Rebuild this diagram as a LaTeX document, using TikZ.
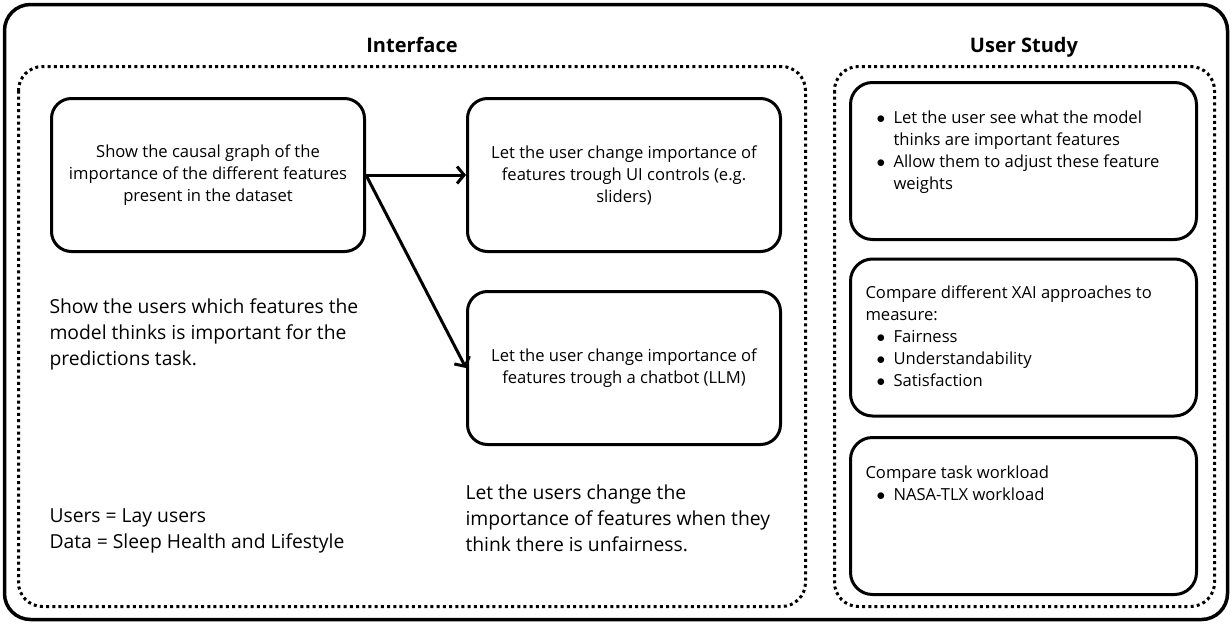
\documentclass[tikz,border=0pt]{standalone}
\usepackage{fontspec}
\setmainfont{Open Sans}
\usetikzlibrary{arrows.meta}

\newcommand{\bul}{\makebox[28pt][l]{\hspace{11pt}$\bullet$}}
\newcommand{\ind}{\hspace*{28pt}}

\begin{document}
\begin{tikzpicture}[
		x=1pt, y=-1pt,
		line width=3pt,
		>={Straight Barb[length=7pt,width=17pt]},
		box/.style={draw,rounded corners=20pt,minimum width=313pt,minimum height=153pt,inner sep=0pt,align=center,font=\fontsize{16.6}{22}\selectfont},
		sbox/.style={draw,rounded corners=22pt,minimum width=346pt,minimum height=157pt},
		group/.style={draw,rounded corners=24pt,dash pattern=on 3pt off 3.2pt},
		note/.style={anchor=west,align=left,inner sep=0pt,font=\fontsize{19.3}{26}\selectfont},
		snote/.style={anchor=west,align=left,inner sep=0pt,font=\fontsize{16.6}{22}\selectfont},
		title/.style={anchor=base,inner sep=0pt,font=\fontsize{20}{24}\selectfont\bfseries}
	]
		\useasboundingbox (0,0) rectangle (1232,624);

		% Frames
		\draw[line width=3.5pt,rounded corners=26pt] (4.5,4.5) rectangle (1227.5,619.5);
		\draw[group] (18.5,66.5) rectangle (805.5,606.5);
		\draw[group] (834.5,66.5) rectangle (1214.5,606.5);
		\node[title] (tif) at (412,52) {Interface};
		\node[title] (tus) at (1024,52) {User Study};

		% Interface
		\node[box] (i1) at (208,175) {Show the causal graph of the\\importance of the different features\\present in the dataset};
		\node[box] (i2) at (624,175) {Let the user change importance of\\features trough UI controls (e.g.\\sliders)};
		\node[box] (i3) at (624,368) {Let the user change importance of\\features trough a chatbot (LLM)};
		\draw[->] (i1.east) -- (i2.west);
		\draw[->] (i1.east) -- (i3.west);

		\node[note] (n1) at (48,334) {Show the users which features the\\model thinks is important for the\\predictions task.};
		\node[note] (n2) at (48,531) {Users = Lay users\\Data = Sleep Health and Lifestyle};
		\node[note] (n3) at (464,518) {Let the users change the\\importance of features when they\\think there is unfairness.};

		% User study
		\node[sbox] (s1) at (1023.5,161) {};
		\node[sbox] (s2) at (1023.5,337.5) {};
		\node[sbox] (s3) at (1023.5,516) {};

		\node[snote] (t1) at (864,152) {\bul Let the user see what the model\\\ind thinks are important features\\\bul Allow them to adjust these feature\\\ind weights};
		\node[snote] (t2) at (864,336) {Compare different XAI approaches to\\measure:\\\bul Fairness\\\bul Understandability\\\bul Satisfaction};
		\node[snote] (t3) at (864,483) {Compare task workload\\\bul NASA-TLX workload};
	\end{tikzpicture}
\end{document}
